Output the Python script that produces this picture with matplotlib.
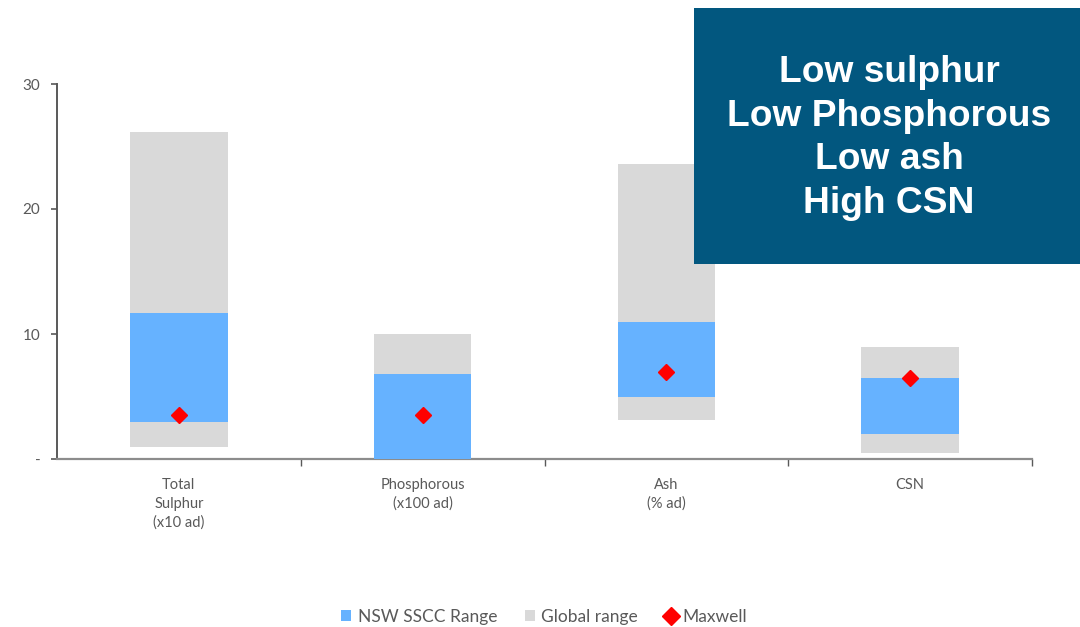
import matplotlib.pyplot as plt
from matplotlib.patches import Rectangle, Patch
from matplotlib.lines import Line2D

categories = ["Total\nSulphur\n(x10 ad)", "Phosphorous\n(x100 ad)", "Ash\n(% ad)", "CSN"]
global_low = [1.0, 0.0, 3.1, 0.5]
global_high = [26.2, 10.0, 23.6, 9.0]
nsw_low = [3.0, 0.0, 5.0, 2.0]
nsw_high = [11.7, 6.8, 11.0, 6.5]
maxwell = [3.5, 3.5, 7.0, 6.5]
y_ticks = [0, 10, 20, 30]
y_tick_labels = ["-", "10", "20", "30"]
callout_lines = ["Low sulphur", "Low Phosphorous", "Low ash", "High CSN"]

label_font = "Lato"
label_color = "#595959"
blue = "#66b2ff"
grey = "#d9d9d9"
red = "#ff0000"

fig = plt.figure(figsize=(10.8, 6.27), dpi=100)
ax = fig.add_axes([57 / 1080, 168 / 627, 975 / 1080, 375 / 627])

x = list(range(len(categories)))
w = 0.4
ax.bar(x, [h - l for h, l in zip(global_high, global_low)], bottom=global_low,
       width=w, color=grey, zorder=2)
ax.bar(x, [h - l for h, l in zip(nsw_high, nsw_low)], bottom=nsw_low,
       width=w, color=blue, zorder=3)
ax.plot(x, maxwell, linestyle="none", marker="D", markersize=8,
        color=red, zorder=4)

ax.set_xlim(-0.5, len(categories) - 0.5)
ax.set_ylim(0, 30)
ax.set_yticks(y_ticks)
ax.set_yticklabels(y_tick_labels, fontfamily=label_font, fontsize=11,
                   color=label_color)
ax.tick_params(axis="y", length=4, width=1.2, color="#595959", pad=8)

# category labels between boundary ticks
ax.set_xticks([i + 0.5 for i in range(len(categories))])
ax.set_xticklabels([])
ax.tick_params(axis="x", length=5, width=1, color="#595959", direction="out")
for xi, lab in zip(x, categories):
    ax.text(xi, -1.5, lab, ha="center", va="top", fontfamily=label_font,
            fontsize=10.5, color=label_color, linespacing=1.45)

for side in ("top", "right"):
    ax.spines[side].set_visible(False)
ax.spines["left"].set_color("#595959")
ax.spines["bottom"].set_color("#8c8c8c")
ax.spines["left"].set_linewidth(1.4)
ax.spines["bottom"].set_linewidth(1.6)

handles = [Patch(facecolor=blue, edgecolor="none"),
           Patch(facecolor=grey, edgecolor="none"),
           Line2D([], [], linestyle="none", marker="D", markersize=9, color=red)]
fig.legend(handles, ["NSW SSCC Range", "Global range", "Maxwell"],
           loc="center", bbox_to_anchor=(544 / 1080, 1 - 617 / 627), ncol=3,
           frameon=False, prop={"family": label_font, "size": 12.5},
           labelcolor=label_color, handlelength=0.6, handleheight=0.6,
           handletextpad=0.35, columnspacing=1.6)

# callout box
fig.patches.append(Rectangle((694 / 1080, 1 - 264 / 627), 386 / 1080, 256 / 627,
                             transform=fig.transFigure, facecolor="#02577f",
                             edgecolor="none", zorder=10))
fig.text(889 / 1080, 1 - 138 / 627, "\n".join(callout_lines), ha="center",
         va="center", color="white", fontsize=26.7, fontweight="bold",
         fontfamily="Liberation Sans", linespacing=1.33, zorder=11)

fig.savefig("out.png", dpi=100)
